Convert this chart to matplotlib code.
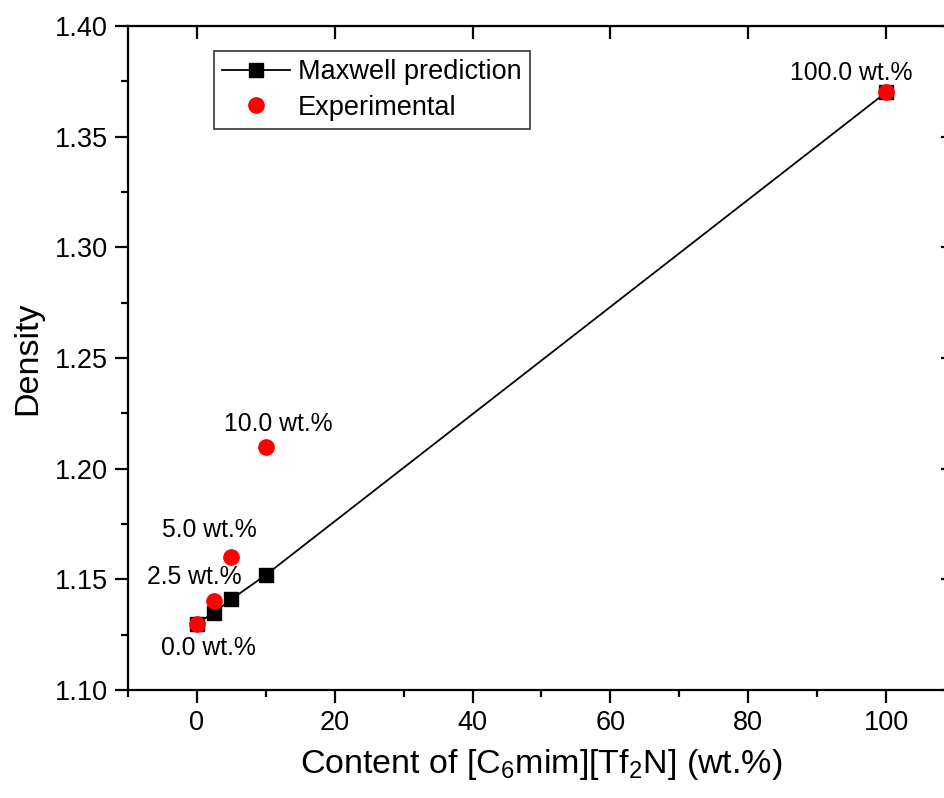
import matplotlib
matplotlib.use("Agg")
import matplotlib.pyplot as plt
from matplotlib.ticker import MultipleLocator

plt.rcParams['font.family'] = ['Liberation Sans', 'DejaVu Sans']
plt.rcParams['mathtext.fontset'] = 'custom'
plt.rcParams['mathtext.rm'] = 'Liberation Sans'

content = [0, 2.5, 5, 10, 100]
maxwell = [1.130, 1.135, 1.141, 1.152, 1.370]
experimental = [1.130, 1.140, 1.160, 1.210, 1.370]
labels = ["0.0 wt.%", "2.5 wt.%", "5.0 wt.%", "10.0 wt.%", "100.0 wt.%"]
label_offsets = [(12, -24), (-20, 24), (-22, 27), (12, 23), (-35, 19)]

fig = plt.figure(figsize=(9.45, 7.98), dpi=100)
ax = fig.add_axes([128/945, 108/798, 827/945, 664/798])

ax.plot(content, maxwell, color='black', lw=1.3, marker='s', markersize=10,
        label='Maxwell prediction', zorder=3)
ax.plot(content, experimental, linestyle='none', marker='o', markersize=11,
        color='red', label='Experimental', zorder=4)

for x, y, t, off in zip(content, experimental, labels, label_offsets):
    ax.annotate(t, (x, y), xytext=off, textcoords='offset pixels',
                ha='center', va='center', fontsize=17.8)

ax.set_xlim(-10, 110)
ax.set_ylim(1.10, 1.40)
ax.xaxis.set_major_locator(MultipleLocator(20))
ax.xaxis.set_minor_locator(MultipleLocator(10))
ax.yaxis.set_major_locator(MultipleLocator(0.05))
ax.yaxis.set_minor_locator(MultipleLocator(0.025))
ax.yaxis.set_major_formatter(matplotlib.ticker.FormatStrFormatter('%.2f'))

for s in ax.spines.values():
    s.set_linewidth(1.6)

ax.tick_params(axis='both', which='major', direction='out', length=9.5, width=1.6,
               labelsize=19.5, top=False, right=False, pad=5)
ax.tick_params(axis='both', which='minor', direction='out', length=5, width=1.6,
               top=False, right=False)

# mirrored inward major ticks on top/right
axt = ax.secondary_xaxis('top')
axt.xaxis.set_major_locator(MultipleLocator(20))
axt.tick_params(which='major', direction='in', length=9.5, width=1.6, labeltop=False)
axt.tick_params(which='minor', length=0)
axr = ax.secondary_yaxis('right')
axr.yaxis.set_major_locator(MultipleLocator(0.05))
axr.tick_params(which='major', direction='in', length=10, width=1.6, labelright=False)
axr.tick_params(which='minor', length=0)

ax.set_xlabel(r'Content of [C$_6$mim][Tf$_2$N] (wt.%)', fontsize=24.5, labelpad=8)
ax.set_ylabel('Density', fontsize=24.5, labelpad=8)

leg = ax.legend(loc='upper left', bbox_to_anchor=(0.104, 0.962), fontsize=19.5,
                frameon=True, fancybox=False, edgecolor='black', handlelength=2.5,
                borderpad=0.3, labelspacing=0.35, handletextpad=0.3, borderaxespad=0)
leg.get_frame().set_linewidth(1.2)

fig.savefig('out.png', dpi=100)
